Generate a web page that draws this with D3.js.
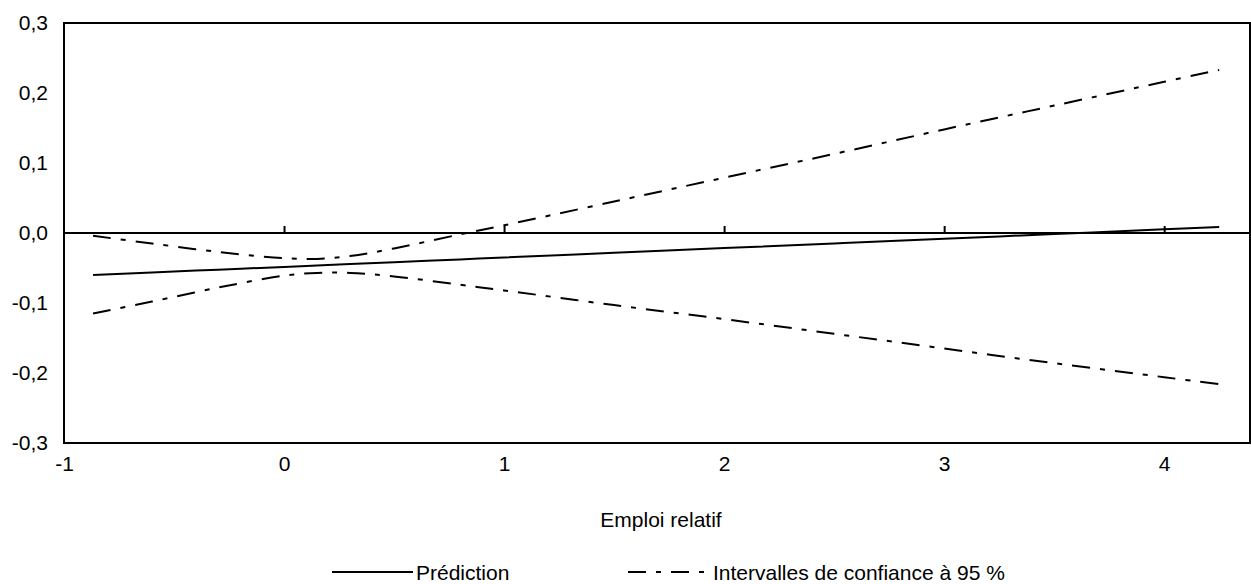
<!DOCTYPE html>
<html>
<head>
<meta charset="utf-8">
<script src="https://cdn.jsdelivr.net/npm/d3@7"></script>
<style>
body { margin: 0; background: #fff; }
svg { display: block; font-family: "Liberation Sans", Arial, sans-serif; }
</style>
</head>
<body>
<svg width="1251" height="584"></svg>
<script>
// values
var xs     = [-0.868, -0.6, -0.3, 0, 0.15, 0.3, 0.5, 0.8, 1, 1.5, 2, 2.5, 3, 3.5, 4, 4.25];
var predY  = [-0.060, -0.0564, -0.0524, -0.0484, -0.0464, -0.0444, -0.0417, -0.0377, -0.035, -0.0283, -0.0216, -0.0149, -0.0082, -0.0015, 0.0052, 0.0086];
var upperY = [-0.004, -0.015, -0.027, -0.036, -0.037, -0.033, -0.022, -0.002, 0.011, 0.045, 0.079, 0.113, 0.148, 0.182, 0.216, 0.233];
var lowerY = [-0.115, -0.098, -0.078, -0.061, -0.057, -0.057, -0.062, -0.074, -0.082, -0.103, -0.123, -0.144, -0.165, -0.186, -0.206, -0.216];

var xTicks = [-1, 0, 1, 2, 3, 4];
var yTicks = [-0.3, -0.2, -0.1, 0, 0.1, 0.2, 0.3];

var svg = d3.select('svg');
var plotL = 64, plotR = 1250, plotT = 23, plotB = 443;
var fs = 21;

var x = d3.scaleLinear().domain([-1, 4.39]).range([plotL, plotR]);
var y = d3.scaleLinear().domain([-0.3, 0.3]).range([plotB, plotT]);

var dashDot = '18,10,5,10';

// frame
svg.append('rect')
    .attr('x', plotL).attr('y', plotT)
    .attr('width', plotR - plotL).attr('height', plotB - plotT)
    .attr('fill', 'none').attr('stroke', '#000').attr('stroke-width', 2);

// y labels
var yAxis = svg.append('g')
    .attr('transform', 'translate(' + plotL + ',0)')
    .call(d3.axisLeft(y).tickValues(yTicks).tickSize(0).tickPadding(16)
        .tickFormat(function(d){ return d3.format('.1f')(d).replace('.', ',').replace('−', '-'); }));
yAxis.select('.domain').remove();
yAxis.selectAll('text').attr('font-size', fs).attr('font-family', null).attr('fill', '#000');

// x labels under the frame
var xAxis = svg.append('g')
    .attr('transform', 'translate(0,' + plotB + ')')
    .call(d3.axisBottom(x).tickValues(xTicks).tickSize(0).tickPadding(13)
        .tickFormat(function(d){ return String(d); }));
xAxis.select('.domain').remove();
xAxis.selectAll('text').attr('font-size', fs).attr('font-family', null).attr('fill', '#000');

// zero line with small ticks pointing up
var zeroAxis = svg.append('g')
    .attr('transform', 'translate(0,' + y(0) + ')')
    .call(d3.axisTop(x).tickValues(xTicks.slice(1)).tickSize(7).tickSizeOuter(0).tickFormat(''));
zeroAxis.select('.domain').attr('stroke-width', 2).attr('d', 'M' + plotL + ',0H' + plotR);
zeroAxis.selectAll('.tick line').attr('stroke-width', 2);

var line = d3.line()
    .x(function(d){ return x(d[0]); })
    .y(function(d){ return y(d[1]); })
    .curve(d3.curveCatmullRom);

function pairs(vals) { return xs.map(function(v, i){ return [v, vals[i]]; }); }

svg.append('path')
    .attr('d', line(pairs(upperY)))
    .attr('fill', 'none').attr('stroke', '#000').attr('stroke-width', 2)
    .attr('stroke-dasharray', dashDot);

svg.append('path')
    .attr('d', line(pairs(lowerY)))
    .attr('fill', 'none').attr('stroke', '#000').attr('stroke-width', 2)
    .attr('stroke-dasharray', dashDot);

svg.append('path')
    .attr('d', line(pairs(predY)))
    .attr('fill', 'none').attr('stroke', '#000').attr('stroke-width', 2);

// axis title
svg.append('text')
    .text('Emploi relatif')
    .attr('x', 661).attr('y', 527)
    .attr('text-anchor', 'middle')
    .attr('font-size', fs);

// legend
svg.append('line')
    .attr('x1', 332).attr('x2', 413).attr('y1', 572).attr('y2', 572)
    .attr('stroke', '#000').attr('stroke-width', 2);
svg.append('text').text('Prédiction')
    .attr('x', 416).attr('y', 580).attr('font-size', fs);

svg.append('line')
    .attr('x1', 628).attr('x2', 705).attr('y1', 572).attr('y2', 572)
    .attr('stroke', '#000').attr('stroke-width', 2)
    .attr('stroke-dasharray', dashDot);
svg.append('text').text('Intervalles de confiance à 95 %')
    .attr('x', 713).attr('y', 580).attr('font-size', fs);
</script>
</body>
</html>
